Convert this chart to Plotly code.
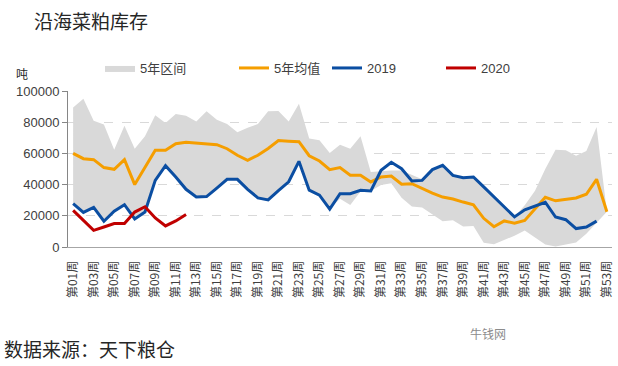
import plotly.graph_objects as go

weeks = [f"第{i:02d}周" for i in range(1, 54)]
tick_weeks = weeks[::2]

range_upper = [89500, 95000, 81000, 78500, 62400, 77800, 63000, 71000, 84500, 79500,
               85300, 84200, 80500, 87000, 81500, 78800, 73600, 76500, 78800, 87000,
               87200, 80500, 91800, 69500, 68500, 60200, 65500, 63000, 71000, 48000,
               48500, 49000, 49000, 46200, 43500, 49600, 52400, 45900, 44400, 44900,
               38500, 32100, 26100, 19400, 26700, 36000, 50000, 62400, 62000, 58500,
               61500, 77000, 22600]
range_lower = [27800, 22200, 25400, 16500, 22900, 27100, 18000, 22400, 42700, 52100,
               44900, 37000, 32100, 32500, 38000, 43400, 43400, 37000, 31500, 30300,
               36300, 41700, 54900, 36300, 33100, 24600, 31000, 27000, 35500, 35900,
               39800, 40900, 31500, 26000, 25400, 21000, 16500, 17200, 13200, 13500,
               2800, 1800, 4500, 7200, 10500, 6000, 1600, 400, 1600, 2900,
               8500, 15500, 22600]
mean_5y = [60000, 56600, 56000, 50900, 49800, 56000, 40000, 51000, 62000, 62000,
           66200, 67100, 66700, 66200, 65600, 63000, 58800, 55600, 58800, 63200,
           68200, 67800, 67500, 58500, 55100, 49600, 50900, 46000, 46000, 41700,
           44900, 45500, 40200, 40600, 37400, 34600, 32000, 30800, 28800, 27000,
           18400, 13000, 16700, 15300, 17000, 24700, 31900, 29600, 30700, 31400,
           33800, 43400, 22600]
y2019 = [27800, 22200, 25400, 16500, 22900, 27100, 18000, 22400, 42700, 52100,
         44900, 37000, 32100, 32300, 37800, 43400, 43400, 37000, 31500, 30200,
         36200, 41800, 54900, 36400, 33200, 24300, 34200, 34200, 36300, 35900,
         49200, 54300, 50200, 42300, 42700, 49600, 52400, 45900, 44400, 44900,
         38500, 32100, 26100, 19300, 23900, 26100, 28700, 19200, 17500, 11800,
         12800, 16600]
y2020 = [23500, 17100, 10700, 12800, 15000, 15000, 22400, 25800, 18600, 13500,
         16700, 20800]

C_GRAY = "#d9d9d9"
C_ORANGE = "#f59e00"
C_BLUE = "#0b4ea2"
C_RED = "#c00000"
FONT = "Noto Sans CJK SC"
NUMFONT = "Liberation Sans, Noto Sans CJK SC"

W, H = 618, 366
ML, MR, MT, MB = 68, 6, 91, 119

fig = go.Figure()
fig.add_trace(go.Scatter(x=weeks, y=range_lower, mode="lines", line=dict(width=0, color=C_GRAY),
                         showlegend=False, hoverinfo="skip"))
fig.add_trace(go.Scatter(x=weeks, y=range_upper, mode="lines", line=dict(width=0, color=C_GRAY),
                         fill="tonexty", fillcolor=C_GRAY, name="5年区间", legend="legend"))
fig.add_trace(go.Scatter(x=weeks, y=mean_5y, mode="lines", line=dict(width=3, color=C_ORANGE),
                         name="5年均值", legend="legend2"))
fig.add_trace(go.Scatter(x=weeks[:len(y2019)], y=y2019, mode="lines", line=dict(width=3, color=C_BLUE),
                         name="2019", legend="legend3"))
fig.add_trace(go.Scatter(x=weeks[:len(y2020)], y=y2020, mode="lines", line=dict(width=3, color=C_RED),
                         name="2020", legend="legend4"))


def leg(xpx):
    return dict(x=xpx / W, y=1 - 68 / H, xref="container", yref="container",
                xanchor="left", yanchor="middle", bgcolor="rgba(0,0,0,0)",
                font=dict(family=NUMFONT, size=13, color="#404040"), itemwidth=30,
                orientation="h")


def ann(text, xpx, ypx, size, color, family=FONT):
    return dict(text=text, x=(xpx - ML) / (W - ML - MR), y=(H - ypx - MB) / (H - MT - MB),
                xref="paper", yref="paper", showarrow=False, xanchor="left", yanchor="middle",
                font=dict(family=family, size=size, color=color))


fig.update_layout(
    width=W, height=H,
    margin=dict(l=ML, r=MR, t=MT, b=MB, autoexpand=False),
    paper_bgcolor="white", plot_bgcolor="white",
    font=dict(family=FONT, color="#404040"),
    legend=leg(100), legend2=leg(234), legend3=leg(327), legend4=leg(441),
    xaxis=dict(
        type="category", categoryorder="array", categoryarray=weeks,
        range=[-0.5, 52.5], tickmode="array", tickvals=tick_weeks, ticktext=tick_weeks,
        tickangle=-90, tickfont=dict(family=FONT, size=12, color="#404040"),
        showgrid=False, showline=True, linecolor="#a6a6a6", linewidth=1,
        ticks="", ticklabelstandoff=8, zeroline=False,
    ),
    yaxis=dict(
        range=[0, 100000], tickmode="array", tickvals=[0, 20000, 40000, 60000, 80000, 100000],
        tickformat="d", tickfont=dict(family=NUMFONT, size=13, color="#404040"),
        showgrid=True, gridcolor="#d9d9d9", griddash="dash", gridwidth=1,
        showline=True, linecolor="#868686", linewidth=1,
        ticks="outside", ticklen=5, tickcolor="#868686", zeroline=False,
    ),
    annotations=[
        ann("沿海菜粕库存", 32, 20, 19, "#262626"),
        ann("吨", 14, 73, 12, "#262626"),
        ann("数据来源：天下粮仓", 2, 348, 19, "#262626"),
        ann("牛钱网", 468, 333, 12, "#8c8c8c"),
    ],
)

fig.write_html("out.html", config={"displayModeBar": False},
               post_script="document.body.style.margin='0';document.body.style.overflow='hidden';")
